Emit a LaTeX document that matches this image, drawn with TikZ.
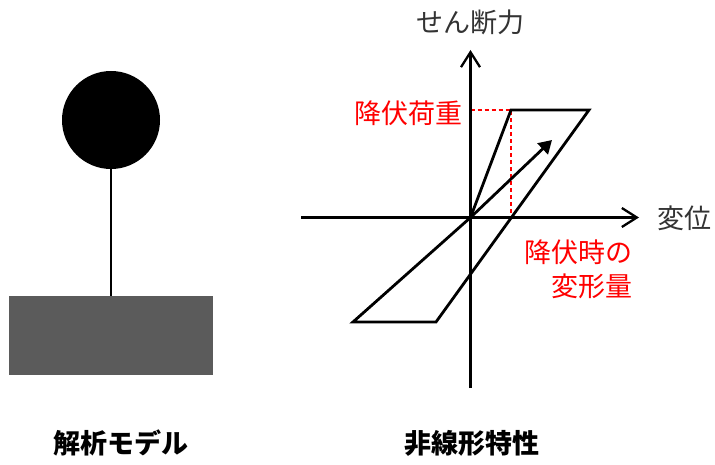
\documentclass[tikz,border=0pt]{standalone}
\usepackage{fontspec}
\newfontfamily\jpfont{Noto Sans CJK JP}
\usetikzlibrary{arrows.meta,positioning}
\definecolor{mdlGray}{HTML}{5B5B5B}
\definecolor{ydRed}{HTML}{FF0000}
\definecolor{axText}{HTML}{333333}
\tikzset{
  mass/.style={circle, fill=black, minimum size=98pt, inner sep=0pt},
  base/.style={rectangle, fill=mdlGray, minimum width=204pt, minimum height=79pt, inner sep=0pt},
  stem/.style={line width=1.5pt, black},
  axis/.style={-{Straight Barb[length=15pt,width=19pt]}, line width=2.3pt},
  loop/.style={line width=2.8pt, line join=miter},
  load/.style={-{Triangle[length=13pt,width=15pt]}, line width=2.8pt},
  guide/.style={draw=ydRed, line width=1.3pt, dash pattern=on 4pt off 3pt},
  axlabel/.style={font=\jpfont\fontsize{27}{34}\selectfont, text=axText, inner sep=0pt},
  redlabel/.style={font=\jpfont\fontsize{27}{34}\selectfont, text=ydRed, align=right, inner sep=0pt},
  caption/.style={font=\jpfont\bfseries\fontsize{27}{34}\selectfont, inner sep=0pt}
}

\begin{document}
\begin{tikzpicture}[x=1pt, y=-1pt]
  \useasboundingbox (0,0) rectangle (715,465);
  % analysis model
  \node[mass] (mass) at (111,120) {};
  \node[base] (base) at (111,335.5) {};
  \draw[stem] (mass.south) -- (base.north);
  \node[caption] (capmodel) at (121,443) {解析モデル};

  % hysteresis
  \coordinate (O) at (470.5,217.5);
  \coordinate (ybot) at (470.5,388);
  \coordinate (ytop) at (470.5,50);
  \coordinate (xleft) at (301,217.5);
  \coordinate (xright) at (639,217.5);
  \coordinate (Y) at (511,110);
  \coordinate (R) at (589,110);
  \coordinate (Bl) at (353,322);
  \coordinate (Br) at (436,322);
  \coordinate (Yx) at (511,217.5);
  \coordinate (Yy) at (470.5,110);
  \coordinate (tip) at (552,140);

  \draw[guide] (Yy) -- (Y) -- (Yx);
  \draw[axis] (ybot) -- (ytop);
  \draw[axis] (xleft) -- (xright);
  \draw[loop] (O) -- (Y) -- (R) -- (Br) -- (Bl) -- (O);
  \draw[load] (O) -- (tip);

  \node[axlabel] (shear) at (470,22) {せん断力};
  \node[axlabel, anchor=west] (disp) at (657,218) {変位};
  \node[redlabel, anchor=east] (yload) at (463,113) {降伏荷重};
  \node[redlabel, anchor=east] (ydisp) at (633,269) {降伏時の\\変形量};
  \node[caption] (capnl) at (472,443) {非線形特性};
\end{tikzpicture}
\end{document}
